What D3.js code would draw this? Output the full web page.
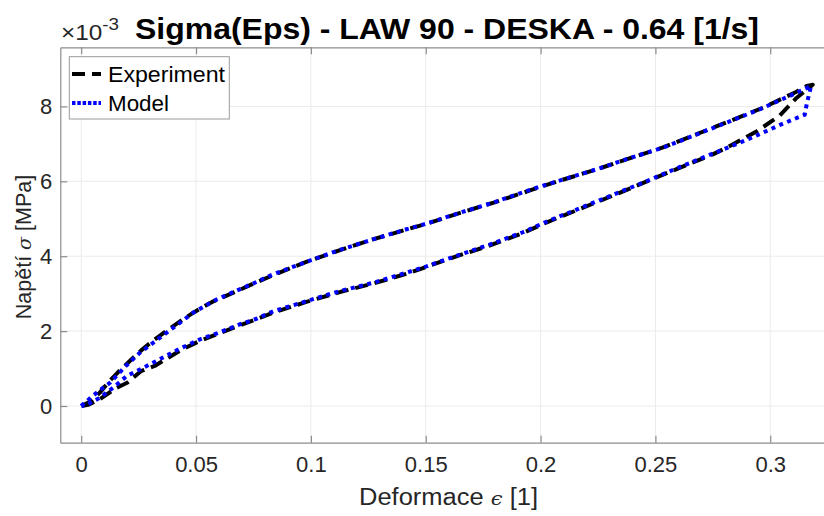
<!DOCTYPE html>
<html>
<head>
<meta charset="utf-8">
<script src="https://cdn.jsdelivr.net/npm/d3@7"></script>
<style>
  html, body { margin: 0; padding: 0; background: #fff; }
  svg { display: block; }
  text { font-family: "Liberation Sans", Arial, Helvetica, sans-serif; }
</style>
</head>
<body>
<svg id="chart" width="824" height="516"></svg>
<script>
// ---------------- data (stress in units of 1e-3 MPa) ----------------
const expEps = [0, 0.004, 0.008, 0.0125, 0.016, 0.0215, 0.026, 0.032, 0.037, 0.044, 0.049, 0.057, 0.066, 0.075,
  0.085, 0.098, 0.113, 0.127, 0.142, 0.150, 0.165, 0.180, 0.196, 0.210, 0.224, 0.239, 0.253, 0.268, 0.282,
  0.297, 0.311, 0.316, 0.3185,
  0.3113, 0.304, 0.294, 0.282, 0.275, 0.2605, 0.246, 0.2315, 0.217, 0.2025, 0.1923, 0.178, 0.163, 0.150,
  0.1416, 0.127, 0.113, 0.098, 0.084, 0.069, 0.060, 0.052, 0.043, 0.032, 0.026, 0.020, 0.015, 0.008, 0.003, 0];
const expSig = [0, 0.12, 0.35, 0.68, 0.90, 1.22, 1.48, 1.78, 2.00, 2.30, 2.50, 2.78, 3.02, 3.27,
  3.53, 3.85, 4.17, 4.45, 4.72, 4.86, 5.16, 5.44, 5.77, 6.05, 6.31, 6.62, 6.90, 7.26, 7.60,
  7.97, 8.38, 8.55, 8.58,
  8.22, 7.75, 7.33, 6.93, 6.72, 6.36, 5.99, 5.62, 5.26, 4.90, 4.62, 4.29, 3.99, 3.71,
  3.53, 3.27, 3.05, 2.78, 2.50, 2.15, 1.94, 1.75, 1.48, 1.07, 0.93, 0.62, 0.47, 0.18, 0.03, 0];

const modEps = [0, 0.005, 0.0096, 0.0125, 0.0198, 0.0255, 0.0342, 0.0429, 0.0487, 0.0574, 0.0661, 0.0748,
  0.0836, 0.0981, 0.1126, 0.1271, 0.1416, 0.1503, 0.1648, 0.1793, 0.1967, 0.2098, 0.2243, 0.2388, 0.2533,
  0.2678, 0.2823, 0.2968, 0.3113, 0.3178,
  0.3160, 0.3150, 0.304, 0.2895, 0.275, 0.2605, 0.246, 0.2315, 0.217, 0.2025, 0.1923, 0.1778,
  0.1633, 0.1503, 0.1416, 0.1271, 0.1126, 0.0981, 0.0836, 0.0763, 0.069, 0.0604, 0.0517, 0.0429, 0.0342,
  0.027, 0.0198, 0.0139, 0.0081, 0.003, 0];
const modSig = [0, 0.27, 0.49, 0.62, 1.09, 1.42, 1.82, 2.22, 2.49, 2.80, 3.04, 3.27,
  3.52, 3.85, 4.17, 4.45, 4.72, 4.87, 5.16, 5.43, 5.80, 6.05, 6.32, 6.62, 6.90,
  7.25, 7.60, 7.96, 8.36, 8.55,
  8.10, 7.78, 7.50, 7.10, 6.74, 6.38, 6.00, 5.64, 5.28, 4.92, 4.64, 4.31,
  4.01, 3.73, 3.56, 3.29, 3.07, 2.80, 2.53, 2.33, 2.18, 1.97, 1.78, 1.53, 1.25,
  1.02, 0.80, 0.49, 0.22, 0.05, 0];

const xTicks = [0, 0.05, 0.1, 0.15, 0.2, 0.25, 0.3];
const xTickLabels = ["0", "0.05", "0.1", "0.15", "0.2", "0.25", "0.3"];
const yTicks = [0, 2, 4, 6, 8];
const yTickLabels = ["0", "2", "4", "6", "8"];
const seriesNames = ["Experiment", "Model"];
const titleText = "Sigma(Eps) - LAW 90 - DESKA - 0.64 [1/s]";

// ---------------- layout ----------------
const svg = d3.select("#chart");
const L = 60.3, R = 824, T = 47.3, B = 442.7;
const x = d3.scaleLinear().domain([-0.0091, 0.3234]).range([L, R]);
const y = d3.scaleLinear().domain([-0.98, 9.58]).range([B, T]);
const axisCol = "#8c8c8c", textCol = "#262626", gridCol = "#ebebeb";

// grid
const g = svg.append("g");
g.selectAll("line.gx").data(xTicks).join("line")
  .attr("x1", d => x(d)).attr("x2", d => x(d)).attr("y1", T).attr("y2", B)
  .attr("stroke", gridCol).attr("stroke-width", 1);
g.selectAll("line.gy").data(yTicks).join("line")
  .attr("y1", d => y(d)).attr("y2", d => y(d)).attr("x1", L).attr("x2", R)
  .attr("stroke", gridCol).attr("stroke-width", 1);

// axes
const xAxisB = d3.axisBottom(x).tickValues(xTicks).tickFormat((d, i) => xTickLabels[i]).tickSizeInner(-7).tickSizeOuter(0).tickPadding(14);
const xAxisT = d3.axisTop(x).tickValues(xTicks).tickFormat("").tickSizeInner(-7).tickSizeOuter(0);
const yAxisL = d3.axisLeft(y).tickValues(yTicks).tickFormat((d, i) => yTickLabels[i]).tickSizeInner(-7).tickSizeOuter(0).tickPadding(8);

function styleAxis(sel) {
  sel.select(".domain").attr("stroke", axisCol).attr("stroke-width", 1.2);
  sel.selectAll(".tick line").attr("stroke", axisCol).attr("stroke-width", 1.2);
  sel.selectAll(".tick text").attr("fill", textCol).style("font-size", "22px").style("font-family", "Liberation Sans, Arial, sans-serif");
}
svg.append("g").attr("transform", `translate(0,${B})`).call(xAxisB).call(styleAxis);
svg.append("g").attr("transform", `translate(0,${T})`).call(xAxisT).call(styleAxis);
svg.append("g").attr("transform", `translate(${L},0)`).call(yAxisL).call(styleAxis);

// clip
svg.append("clipPath").attr("id", "clip").append("rect").attr("x", L).attr("y", T).attr("width", R - L).attr("height", B - T);

const line = d3.line().x(d => x(d[0])).y(d => y(d[1]));
const expData = expEps.map((e, i) => [e, expSig[i]]);
const modData = modEps.map((e, i) => [e, modSig[i]]);

const plot = svg.append("g").attr("clip-path", "url(#clip)");
plot.append("path").datum(expData).attr("d", line)
  .attr("fill", "none").attr("stroke", "#000").attr("stroke-width", 4)
  .attr("stroke-dasharray", "13,7").attr("stroke-linejoin", "round");
plot.append("path").datum(modData).attr("d", line)
  .attr("fill", "none").attr("stroke", "#0000ff").attr("stroke-width", 4)
  .attr("stroke-dasharray", "4,4.5").attr("stroke-linejoin", "miter");

// title
svg.append("text").attr("x", 135).attr("y", 39)
  .attr("textLength", 624).attr("lengthAdjust", "spacingAndGlyphs")
  .attr("fill", "#000").style("font-size", "29px").style("font-weight", "bold").text(titleText);

// exponent
const ex = svg.append("text").attr("x", 61).attr("y", 40).attr("fill", textCol).style("font-size", "22px")
  .attr("textLength", 58).attr("lengthAdjust", "spacingAndGlyphs");
ex.append("tspan").text("\u00d710");
ex.append("tspan").attr("dy", -10).style("font-size", "17px").text("-3");

// axis labels
const xl = svg.append("text").attr("x", 359).attr("y", 505)
  .attr("textLength", 179).attr("lengthAdjust", "spacingAndGlyphs")
  .attr("fill", textCol).style("font-size", "23px");
xl.append("tspan").text("Deformace ");
xl.append("tspan").style("font-style", "italic").style("font-family", "DejaVu Serif, serif").style("font-size", "19px").text("\u03f5");
xl.append("tspan").text(" [1]");

const yl = svg.append("text").attr("transform", "translate(31,247) rotate(-90)").attr("text-anchor", "middle").attr("fill", textCol).style("font-size", "21.5px");
yl.append("tspan").text("Napětí ");
yl.append("tspan").style("font-style", "italic").style("font-family", "DejaVu Serif, serif").style("font-size", "19px").text("\u03c3");
yl.append("tspan").text(" [MPa]");

// legend
const lg = svg.append("g");
lg.append("rect").attr("x", 69.3).attr("y", 56.7).attr("width", 160).attr("height", 62.3)
  .attr("fill", "#fff").attr("stroke", "#9a9a9a").attr("stroke-width", 1);
const legendItems = [
  { name: seriesNames[0], color: "#000", dash: "13,7", y: 74, len: 117 },
  { name: seriesNames[1], color: "#0000ff", dash: "3.5,1.8", y: 103, len: 61 }
];
legendItems.forEach(it => {
  lg.append("line").attr("x1", 72).attr("x2", 101).attr("y1", it.y).attr("y2", it.y)
    .attr("stroke", it.color).attr("stroke-width", 4).attr("stroke-dasharray", it.dash);
  lg.append("text").attr("x", 108).attr("y", it.y + 8)
    .attr("textLength", it.len).attr("lengthAdjust", "spacingAndGlyphs")
    .attr("fill", "#000").style("font-size", "22px").text(it.name);
});
</script>
</body>
</html>
